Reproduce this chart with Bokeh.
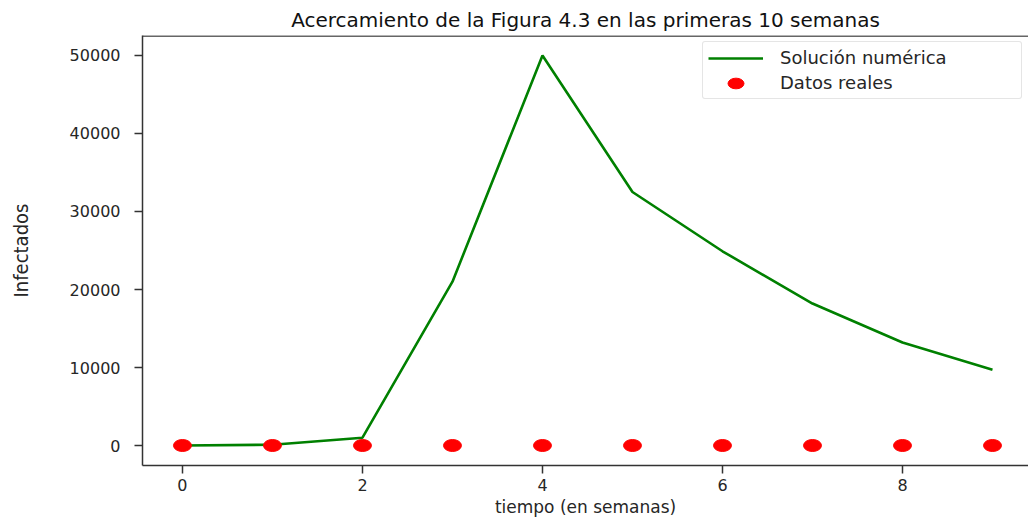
from bokeh.plotting import figure
from bokeh.models import Range1d, FixedTicker, Span, Legend, LegendItem, ColumnDataSource
from bokeh.embed import file_html
from bokeh.resources import INLINE

semanas = [0, 1, 2, 3, 4, 5, 6, 7, 8, 9]
solucion_numerica = [0, 100, 1000, 21000, 50000, 32500, 24900, 18200, 13200, 9700]
datos_reales = [0, 0, 0, 0, 0, 0, 0, 0, 0, 0]
x_ticks = [0, 2, 4, 6, 8]
y_ticks = [0, 10000, 20000, 30000, 40000, 50000]

titulo = "Acercamiento de la Figura 4.3 en las primeras 10 semanas"
FONT = "DejaVu Sans"
TXT = "#262626"
Y0, Y1 = -2564, 52564

p = figure(width=1028, height=519, output_backend="svg", toolbar_location=None,
           x_range=Range1d(-0.444, 9.4), y_range=Range1d(Y0, Y1),
           min_border_left=142, min_border_right=0, min_border_top=35, min_border_bottom=54)
p.outline_line_color = None
p.xgrid.visible = False
p.ygrid.visible = False
p.background_fill_color = "white"
p.border_fill_color = "white"

p.title.text = titulo
p.title.align = "center"
p.title.text_font = FONT
p.title.text_font_size = "20px"
p.title.text_font_style = "normal"
p.title.text_color = "#111111"
p.title.offset = 0
p.title.standoff = 7

p.xaxis.ticker = FixedTicker(ticks=x_ticks)
p.yaxis.ticker = FixedTicker(ticks=y_ticks)
for ax in (p.xaxis[0], p.yaxis[0]):
    ax.minor_tick_line_color = None
    ax.major_tick_in = 0
    ax.major_tick_out = 8
    ax.major_tick_line_color = "#333333"
    ax.major_tick_line_width = 1.5
    ax.axis_line_color = "#333333"
    ax.axis_line_width = 1.5
    ax.major_label_text_font = FONT
    ax.major_label_text_font_size = "16px"
    ax.major_label_text_color = TXT
    ax.axis_label_text_font_style = "normal"
    ax.axis_label_text_color = TXT

p.xaxis.axis_label = "tiempo (en semanas)"
p.xaxis.axis_label_text_font = FONT
p.xaxis.axis_label_text_font_size = "17px"
p.xaxis.major_label_standoff = 5
p.xaxis.axis_label_standoff = 3

p.yaxis.axis_label = "Infectados"
p.yaxis.axis_label_text_font = "'DejaVu Sans Condensed', 'Liberation Sans Narrow', 'Roboto Condensed', 'Open Sans Condensed', sans-serif"
p.yaxis.axis_label_text_font_size = "20px"
p.yaxis.major_label_standoff = 14
p.yaxis.axis_label_standoff = 34
p.yaxis.major_label_orientation = "horizontal"

p.add_layout(Span(location=Y1 - 80, dimension="width", line_color="#333333", line_width=1.5))

src = ColumnDataSource(dict(x=semanas, sol=solucion_numerica, dat=datos_reales))
r_line = p.line("x", "sol", source=src, line_color="#008000", line_width=2.6)
r_dots = p.ellipse("x", "dat", source=src, width=18, height=12,
                   width_units="screen", height_units="screen",
                   fill_color="#ff0000", line_color="#ff0000")

legend = Legend(items=[LegendItem(label="Solución numérica", renderers=[r_line]),
                       LegendItem(label="Datos reales", renderers=[r_dots])],
                location="top_right")
legend.margin = 6
legend.padding = 5
legend.spacing = 4
legend.glyph_width = 55
legend.glyph_height = 20
legend.label_standoff = 17
legend.label_width = 236
legend.label_text_font = FONT
legend.label_text_font_size = "18px"
legend.label_text_color = TXT
legend.border_line_color = "#cccccc"
legend.border_line_width = 1
legend.border_radius = 3
legend.background_fill_alpha = 0.8
p.add_layout(legend)

open("out.html", "w").write(file_html(p, INLINE))
